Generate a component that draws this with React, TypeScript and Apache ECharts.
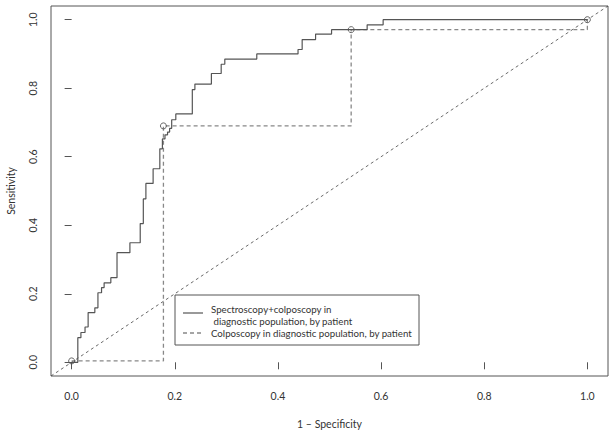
import React, { useEffect, useRef } from "react";
import * as echarts from "echarts";

// Spectroscopy+colposcopy ROC curve (1 - specificity, sensitivity) corner points
const solidFpr = [0, 0.012, 0.018, 0.026, 0.032, 0.045, 0.051, 0.058, 0.063, 0.076, 0.088, 0.113, 0.133, 0.139, 0.144, 0.158, 0.171, 0.176, 0.181, 0.186, 0.190, 0.194, 0.202, 0.234, 0.239, 0.271, 0.290, 0.297, 0.359, 0.439, 0.447, 0.473, 0.504, 0.573, 0.604, 1.0];
const solidTpr = [0, 0.072, 0.087, 0.103, 0.145, 0.159, 0.203, 0.218, 0.232, 0.247, 0.320, 0.349, 0.405, 0.477, 0.522, 0.565, 0.623, 0.652, 0.664, 0.672, 0.683, 0.708, 0.725, 0.796, 0.812, 0.843, 0.870, 0.885, 0.900, 0.913, 0.942, 0.958, 0.971, 0.985, 1.0, 1.0];

// Colposcopy ROC points
const dashFpr = [0, 0.178, 0.542, 1.0];
const dashTpr = [0.004, 0.69, 0.971, 1.0];

// Chance diagonal (abline y = x across the plot region)
const diagonal = [-0.04, 1.04];

const tickValues = [0, 0.2, 0.4, 0.6, 0.8, 1.0];

const legendLabels = [
  "Spectroscopy+colposcopy in",
  " diagnostic population, by patient",
  "Colposcopy in diagnostic population, by patient",
];

const FONT = "Lato";

export default function App() {
  const ref = useRef<HTMLDivElement>(null);
  useEffect(() => {
    if (!ref.current) return;
    const chart = echarts.init(ref.current, null, { renderer: "svg" });
    const axisCommon = {
      type: "value" as const,
      min: -0.04,
      max: 1.04,
      axisLine: { show: false },
      splitLine: { show: false },
      axisTick: {
        show: true,
        length: 7,
        customValues: tickValues,
        lineStyle: { color: "#555", width: 1 },
      },
      nameLocation: "middle" as const,
      nameTextStyle: { fontFamily: FONT, fontSize: 10.5, color: "#333" },
    };
    chart.setOption({
      animation: false,
      backgroundColor: "#fff",
      grid: {
        left: 51,
        right: 7,
        top: 6,
        bottom: 56,
        outerBoundsMode: "none",
        containLabel: false,
        show: true,
        borderColor: "#555",
        borderWidth: 1,
        backgroundColor: "transparent",
      },
      xAxis: {
        ...axisCommon,
        name: "1 – Specificity",
        nameGap: 42,
        axisLabel: {
          customValues: tickValues,
          formatter: (v: number) => v.toFixed(1),
          margin: 14,
          fontFamily: FONT,
          fontSize: 10.5,
          color: "#333",
        },
      },
      yAxis: {
        ...axisCommon,
        name: "Sensitivity",
        nameGap: 35,
        axisLabel: {
          customValues: tickValues,
          formatter: (v: number) => v.toFixed(1),
          margin: 13,
          rotate: 90,
          fontFamily: FONT,
          fontSize: 10.5,
          color: "#333",
        },
      },
      series: [
        {
          type: "line",
          data: diagonal.map((v) => [v, v]),
          showSymbol: false,
          lineStyle: { color: "#444", width: 0.8, type: [3, 3] },
          silent: true,
          z: 1,
        },
        {
          type: "line",
          step: "end",
          data: dashFpr.map((x, i) => [x, dashTpr[i]]),
          symbol: "circle",
          symbolSize: 6,
          showSymbol: true,
          itemStyle: { color: "rgba(0,0,0,0)", borderColor: "#555", borderWidth: 0.9 },
          lineStyle: { color: "#888", width: 1.3, type: [4, 3] },
          z: 2,
        },
        {
          type: "line",
          step: "end",
          data: solidFpr.map((x, i) => [x, solidTpr[i]]),
          showSymbol: false,
          lineStyle: { color: "#555", width: 1.2 },
          z: 3,
        },
      ],
      graphic: [
        {
          type: "rect",
          shape: { x: 175, y: 295, width: 244, height: 50 },
          style: { fill: "#fff", stroke: "#555", lineWidth: 1 },
          z: 10,
        },
        {
          type: "line",
          shape: { x1: 183, y1: 313, x2: 203, y2: 313 },
          style: { stroke: "#555", lineWidth: 1.2 },
          z: 11,
        },
        {
          type: "line",
          shape: { x1: 183, y1: 333, x2: 203, y2: 333 },
          style: { stroke: "#888", lineWidth: 1.3, lineDash: [4, 3] },
          z: 11,
        },
        ...legendLabels.map((t, i) => ({
          type: "text",
          x: 211,
          y: [309, 321, 333][i],
          style: {
            text: t,
            fontFamily: FONT,
            fontSize: 9.7,
            fill: "#333",
            verticalAlign: "middle",
          },
          z: 11,
        })),
      ],
    });
    return () => chart.dispose();
  }, []);
  return (
    <div
      ref={ref}
      style={{ position: "fixed", left: 0, top: 0, width: 615, height: 432 }}
    />
  );
}
